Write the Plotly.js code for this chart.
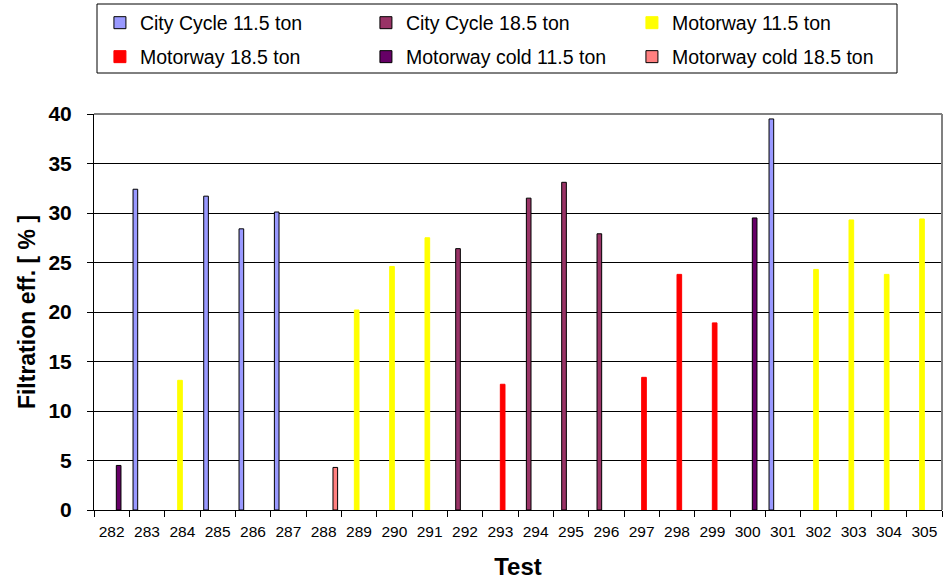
<!DOCTYPE html>
<html>
<head>
<meta charset="utf-8">
<script src="https://cdn.plot.ly/plotly-3.0.1.min.js"></script>
<style>html,body{margin:0;padding:0;background:#fff;}#chart{width:948px;height:583px;}</style>
</head>
<body>
<div id="chart"></div>
<script>
const categories = ['282','283','284','285','286','287','288','289','290','291','292','293','294','295','296','297','298','299','300','301','302','303','304','305'];

const cityCycle115_x = ['283','285','286','287','301'];
const cityCycle115_y = [32.4, 31.7, 28.4, 30.1, 39.5];

const cityCycle185_x = ['292','294','295','296'];
const cityCycle185_y = [26.4, 31.5, 33.1, 27.9];

const motorway115_x = ['284','289','290','291','302','303','304','305'];
const motorway115_y = [13.1, 20.2, 24.6, 27.5, 24.3, 29.3, 23.8, 29.4];

const motorway185_x = ['293','297','298','299'];
const motorway185_y = [12.7, 13.4, 23.8, 18.9];

const motorwayCold115_x = ['282','300'];
const motorwayCold115_y = [4.5, 29.5];

const motorwayCold185_x = ['288'];
const motorwayCold185_y = [4.3];

const seriesNames = ['City Cycle 11.5 ton','City Cycle 18.5 ton','Motorway 11.5 ton','Motorway 18.5 ton','Motorway cold 11.5 ton','Motorway cold 18.5 ton'];
const yTicks = [0,5,10,15,20,25,30,35,40];

const FONT = '"Liberation Sans", Arial, sans-serif';

// expand a series onto every category (null where the test has no value) so bars group
function expand(xs, ys) {
  return categories.map(c => { const i = xs.indexOf(c); return i >= 0 ? ys[i] : null; });
}

function bar(name, xs, ys, fill, line, legend) {
  return {
    type: 'bar', name: name, x: categories, y: expand(xs, ys),
    marker: {color: fill, line: {color: line, width: 1}},
    legend: legend,
    hoverinfo: 'x+y+name'
  };
}

const traces = [
  bar(seriesNames[0], cityCycle115_x, cityCycle115_y, '#9999FF', '#000000', 'legend'),
  bar(seriesNames[1], cityCycle185_x, cityCycle185_y, '#993366', '#000000', 'legend'),
  bar(seriesNames[2], motorway115_x, motorway115_y, '#FFFF00', '#FFFF00', 'legend'),
  bar(seriesNames[3], motorway185_x, motorway185_y, '#FF0000', '#FF0000', 'legend2'),
  bar(seriesNames[4], motorwayCold115_x, motorwayCold115_y, '#660066', '#000000', 'legend2'),
  bar(seriesNames[5], motorwayCold185_x, motorwayCold185_y, '#FF8080', '#000000', 'legend2')
];

const legendCommon = {
  orientation: 'h', xanchor: 'left', yanchor: 'middle',
  entrywidth: 221, entrywidthmode: 'pixels',
  font: {family: FONT, size: 19.5, color: '#000'},
  bgcolor: 'rgba(0,0,0,0)', borderwidth: 0, traceorder: 'normal'
};

const layout = {
  width: 948, height: 583,
  margin: {l: 94, r: 6, t: 114, b: 73, autoexpand: false},
  paper_bgcolor: '#fff', plot_bgcolor: '#fff',
  font: {family: FONT, color: '#000'},
  barmode: 'group', bargap: 0.21, bargroupgap: 0,
  showlegend: true,
  legend: Object.assign({}, legendCommon, {x: 0.007, y: 1.2298}),
  legend2: Object.assign({}, legendCommon, {x: 0.007, y: 1.1440}),
  xaxis: {
    type: 'category', categoryorder: 'array', categoryarray: categories,
    tickson: 'boundaries', ticks: 'outside', ticklen: 6, tickcolor: '#000', ticklabelstandoff: 7,
    tickangle: 0,
    showline: true, linecolor: '#000', linewidth: 1,
    showgrid: false, zeroline: false,
    tickfont: {family: FONT, size: 15.5, color: '#000'},
    title: {text: 'Test', font: {family: FONT, size: 24, color: '#000', weight: 'bold'}, standoff: 19},
    fixedrange: true
  },
  yaxis: {
    range: [0, 40], tickvals: yTicks, ticktext: yTicks.map(String),
    ticks: 'outside', ticklen: 6, tickcolor: '#000', ticklabelstandoff: 11,
    showline: true, linecolor: '#000', linewidth: 1,
    showgrid: true, gridcolor: '#000', gridwidth: 1, zeroline: false,
    tickfont: {family: FONT, size: 21, color: '#000', weight: 'bold'},
    title: {text: 'Filtration eff. [ % ]', font: {family: FONT, size: 23, color: '#000', weight: 'bold'}, standoff: 6},
    fixedrange: true
  },
  shapes: [
    {type: 'line', xref: 'paper', yref: 'paper', x0: 0, x1: 1, y0: 1, y1: 1, line: {color: '#808080', width: 2}},
    {type: 'line', xref: 'paper', yref: 'paper', x0: 1, x1: 1, y0: 0, y1: 1, line: {color: '#808080', width: 2}},
    {type: 'rect', xref: 'paper', yref: 'paper', x0: (97-94)/848, x1: (897-94)/848, y0: (510-73)/396, y1: (510-4)/396, line: {color: '#000', width: 1}, fillcolor: 'rgba(0,0,0,0)'}
  ]
};

Plotly.newPlot('chart', traces, layout, {displayModeBar: false, staticPlot: true});
</script>
</body>
</html>
